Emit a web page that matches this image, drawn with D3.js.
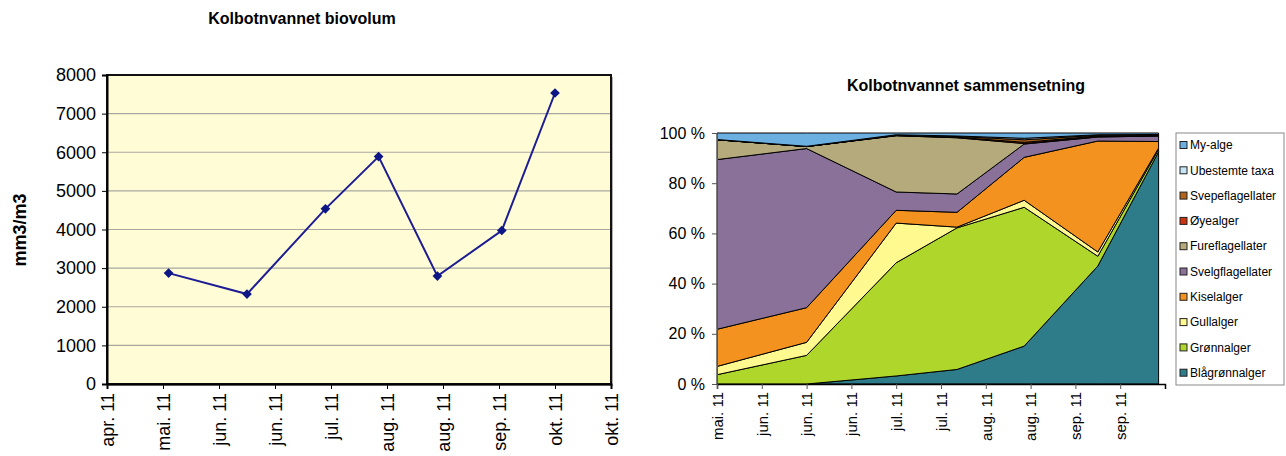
<!DOCTYPE html>
<html lang="no">
<head>
<meta charset="utf-8">
<title>Kolbotnvannet</title>
<script src="https://d3js.org/d3.v7.min.js"></script>
<style>
  body { margin: 0; background: #fff; }
  svg { display: block; font-family: "Liberation Sans", Arial, sans-serif; }
</style>
</head>
<body>
<script>
// sampling dates 2011
var sampleDates = ["2011-05-18", "2011-06-15", "2011-07-13", "2011-08-01", "2011-08-22", "2011-09-14", "2011-10-03"];
var biovolum = [2871, 2328, 4534, 5888, 2793, 3974, 7534];

// composition, % of biovolume, bottom to top
var groups = ["Blågrønnalger", "Grønnalger", "Gullalger", "Kiselalger", "Svelgflagellater",
              "Fureflagellater", "Øyealger", "Svepeflagellater", "Ubestemte taxa", "My-alge"];
var blagronnalger    = [0,    0,    3.2,  5.8,  15.1, 47.0, 92.5];
var gronnalger       = [3.7,  11.4, 45.1, 56.4, 55.3, 3.9,  1.0];
var gullalger        = [3.3,  5.2,  15.8, 0.3,  2.8,  1.7,  0.5];
var kiselalger       = [14.8, 13.8, 5.1,  5.9,  17.1, 44.2, 2.6];
var svelgflagellater = [67.6, 63.4, 7.3,  7.3,  5.3,  1.6,  2.2];
var fureflagellater  = [7.9,  0.8,  22.4, 22.4, 0.2,  0.2,  0.1];
var oyealger         = [0,    0,    0.1,  0.2,  0.5,  0.2,  0.1];
var svepeflagellater = [0,    0,    0.1,  0.3,  1.0,  0.3,  0.2];
var ubestemte        = [0.1,  0.1,  0.2,  0.2,  0.6,  0.2,  0.2];
var myalge           = [2.6,  5.3,  0.7,  1.2,  2.1,  0.7,  0.6];
var groupColors = ["#2e7b8a", "#afd62a", "#fff98f", "#f3921f", "#8a7199",
                   "#b5aa7b", "#cc3311", "#b0651a", "#c6e6f5", "#6cb0e2"];

var monthNames = ["jan.", "feb.", "mar.", "apr.", "mai.", "jun.", "jul.", "aug.", "sep.", "okt.", "nov.", "des."];
var leftTicksY = [0, 1000, 2000, 3000, 4000, 5000, 6000, 7000, 8000];
var rightTicksY = [0, 20, 40, 60, 80, 100];

var parse = d3.timeParse("%Y-%m-%d");
var dates = sampleDates.map(parse);
var fmt = function(d) { return monthNames[d.getMonth()] + " 11"; };

// date axis ticks: Excel style fixed step from axis minimum
function stepTicks(start, step, n) {
  return d3.range(n).map(function(i) { return d3.timeDay.offset(parse(start), i * step); });
}

var svg = d3.select("body").append("svg")
    .attr("width", 1286)
    .attr("height", 456);

// ---------- left: biovolum ----------
var xl = d3.scaleTime()
    .domain([parse("2011-04-26"), parse("2011-10-23")])
    .range([107, 611]);
var yl = d3.scaleLinear().domain([0, 8000]).range([384, 75]);

var left = svg.append("g");

left.append("text")
    .attr("x", 302).attr("y", 24)
    .attr("text-anchor", "middle")
    .attr("font-size", 16).attr("font-weight", "bold")
    .text("Kolbotnvannet biovolum");

left.append("rect")
    .attr("x", 109).attr("y", 77)
    .attr("width", 504).attr("height", 309)
    .attr("fill", "#b0b0b0");
left.append("rect")
    .attr("x", 107).attr("y", 75)
    .attr("width", 504).attr("height", 309)
    .attr("fill", "#fffcd6")
    .attr("stroke", "#111").attr("stroke-width", 2);

left.selectAll(".grid")
    .data(leftTicksY.slice(1, -1))
    .enter().append("line")
    .attr("x1", 108).attr("x2", 610)
    .attr("y1", function(d) { return yl(d); })
    .attr("y2", function(d) { return yl(d); })
    .attr("stroke", "#a8a8a0").attr("stroke-width", 1.2);

var yAxisL = left.append("g")
    .attr("transform", "translate(107,0)")
    .call(d3.axisLeft(yl).tickValues(leftTicksY).tickFormat(d3.format("d")).tickSize(5).tickPadding(6));
yAxisL.selectAll("text").attr("font-size", 18).attr("fill", "#000").attr("font-family", "Liberation Sans, Arial");
yAxisL.select(".domain").attr("stroke", "#000").attr("stroke-width", 2);

var xAxisL = left.append("g")
    .attr("transform", "translate(0,384)")
    .call(d3.axisBottom(xl).tickValues(stepTicks("2011-04-26", 20, 10)).tickFormat(fmt).tickSize(5));
xAxisL.select(".domain").attr("stroke", "#000").attr("stroke-width", 2);
xAxisL.selectAll("text")
    .attr("font-size", 18).attr("fill", "#000").attr("font-family", "Liberation Sans, Arial")
    .attr("transform", "rotate(-90)")
    .attr("x", -9).attr("y", 0).attr("dy", "0.35em")
    .style("text-anchor", "end");

left.append("text")
    .attr("transform", "translate(26,230) rotate(-90)")
    .attr("text-anchor", "middle")
    .attr("font-size", 18).attr("font-weight", "bold")
    .text("mm3/m3");

var line = d3.line()
    .x(function(d, i) { return xl(dates[i]); })
    .y(function(d) { return yl(d); });

left.append("path")
    .datum(biovolum)
    .attr("d", line)
    .attr("fill", "none")
    .attr("stroke", "#1c1c94")
    .attr("stroke-width", 2);

left.selectAll(".pt")
    .data(biovolum)
    .enter().append("path")
    .attr("transform", function(d, i) { return "translate(" + xl(dates[i]) + "," + yl(d) + ")"; })
    .attr("d", d3.symbol().type(d3.symbolDiamond2).size(60))
    .attr("fill", "#0d1685");

// ---------- right: sammensetning ----------
var xr = d3.scaleTime()
    .domain([parse("2011-05-18"), parse("2011-10-05")])
    .range([717, 1165]);
var yr = d3.scaleLinear().domain([0, 100]).range([384, 133]);

var right = svg.append("g");

right.append("text")
    .attr("x", 966).attr("y", 91)
    .attr("text-anchor", "middle")
    .attr("font-size", 16).attr("font-weight", "bold")
    .text("Kolbotnvannet sammensetning");

var series = [blagronnalger, gronnalger, gullalger, kiselalger, svelgflagellater,
              fureflagellater, oyealger, svepeflagellater, ubestemte, myalge];
var table = dates.map(function(d, i) {
  var row = { date: d };
  groups.forEach(function(g, k) { row[g] = series[k][i]; });
  return row;
});
var stacked = d3.stack().keys(groups)(table);

var area = d3.area()
    .x(function(d) { return xr(d.data.date); })
    .y0(function(d) { return yr(d[0]); })
    .y1(function(d) { return yr(d[1]); });

right.selectAll(".layer")
    .data(stacked)
    .enter().append("path")
    .attr("d", area)
    .attr("fill", function(d, i) { return groupColors[i]; })
    .attr("stroke", "#000")
    .attr("stroke-width", 1)
    .attr("stroke-linejoin", "round");

var yAxisR = right.append("g")
    .attr("transform", "translate(717,0)")
    .call(d3.axisLeft(yr).tickValues(rightTicksY).tickFormat(function(d) { return d + " %"; }).tickSize(5).tickPadding(7));
yAxisR.selectAll("text").attr("font-size", 16).attr("fill", "#000").attr("font-family", "Liberation Sans, Arial");
yAxisR.selectAll("line, .domain").attr("stroke", "#555");

var xAxisR = right.append("g")
    .attr("transform", "translate(0,384)")
    .call(d3.axisBottom(xr).tickValues(stepTicks("2011-05-18", 14, 10)).tickFormat(fmt).tickSize(5));
xAxisR.selectAll("line").attr("stroke", "#555");
xAxisR.select(".domain").attr("stroke", "#000").attr("stroke-width", 1.5);
xAxisR.selectAll("text")
    .attr("font-size", 15).attr("fill", "#000").attr("font-family", "Liberation Sans, Arial")
    .attr("transform", "rotate(-90)")
    .attr("x", -8).attr("y", 0).attr("dy", "0.35em")
    .style("text-anchor", "end");

// legend, top item is the top layer
var legend = right.append("g");
legend.append("rect")
    .attr("x", 1176).attr("y", 133)
    .attr("width", 108).attr("height", 252)
    .attr("fill", "#fff").attr("stroke", "#888");

var items = legend.selectAll(".item")
    .data(groups.slice().reverse())
    .enter().append("g")
    .attr("transform", function(d, i) { return "translate(1180," + (145 + i * 25.3) + ")"; });
items.append("rect")
    .attr("x", 0).attr("y", -3.5)
    .attr("width", 7).attr("height", 7)
    .attr("fill", function(d) { return groupColors[groups.indexOf(d)]; })
    .attr("stroke", "#222").attr("stroke-width", 1);
items.append("text")
    .attr("x", 10).attr("dy", "0.35em")
    .attr("font-size", 12)
    .text(function(d) { return d; });
</script>
</body>
</html>
